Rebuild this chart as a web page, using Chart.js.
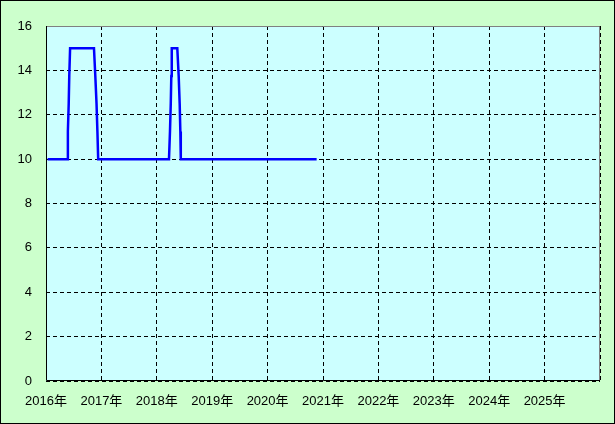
<!DOCTYPE html>
<html>
<head>
<meta charset="utf-8">
<script src="https://cdn.jsdelivr.net/npm/chart.js@4/dist/chart.umd.min.js"></script>
<style>
  html, body { margin: 0; padding: 0; background: #ccffcc; }
  #wrap { width: 615px; height: 424px; }
</style>
</head>
<body>
<div id="wrap"><canvas id="lineChart" width="615" height="424"></canvas></div>
<script>
// ---------------- DATA -----------------------------
// dates as decimal years
const dates = [
  2016.03, 2016.38, 2016.395, 2016.41, 2016.42, 2016.435,
  2016.866, 2016.89, 2016.912, 2016.928, 2016.942,
  2018.22, 2018.238, 2018.252, 2018.262, 2018.27,
  2018.37, 2018.395, 2018.413, 2018.425, 2018.433,
  2020.885,
];
const rates = [
  10, 10, 11.25, 12.5, 13.75, 15,
  15, 13.75, 12.5, 11.25, 10,
  10, 11.25, 12.5, 13.75, 15,
  15, 13.75, 12.5, 11.25, 10,
  10,
];
const yearTicks = [2016, 2017, 2018, 2019, 2020, 2021, 2022, 2023, 2024, 2025];

const points = dates.map((d, i) => ({ x: d, y: rates[i] }));

// ---------------- BACKGROUND / BORDERS -----------------------------
const framePlugin = {
  id: "frame",
  beforeDraw(chart) {
    const { ctx, chartArea: a, width, height } = chart;
    ctx.save();
    ctx.fillStyle = "#ccffcc";
    ctx.fillRect(0, 0, width, height);
    ctx.strokeStyle = "#000";
    ctx.lineWidth = 1;
    ctx.strokeRect(0.5, 0.5, width - 1, height - 1);
    ctx.fillStyle = "#ccffff";
    ctx.fillRect(a.left, a.top, a.right - a.left, a.bottom - a.top);
    ctx.restore();
  },
  beforeDatasetsDraw(chart) {
    const { ctx, chartArea: a } = chart;
    ctx.save();
    ctx.lineWidth = 1;
    ctx.strokeStyle = "#808080";
    ctx.beginPath();
    ctx.moveTo(a.left, a.top + 0.5);
    ctx.lineTo(a.right - 0.5, a.top + 0.5);
    ctx.lineTo(a.right - 0.5, a.bottom);
    ctx.stroke();
    ctx.strokeStyle = "#000";
    ctx.beginPath();
    ctx.moveTo(a.left + 0.5, a.top);
    ctx.lineTo(a.left + 0.5, a.bottom - 0.5);
    ctx.lineTo(a.right, a.bottom - 0.5);
    ctx.stroke();
    ctx.restore();
  },
};

const font = { family: "'Liberation Sans', 'Noto Sans CJK JP', sans-serif", size: 13 };

// ---------------- CHART -----------------------------
const lineChartConfig = {
  type: "line",
  data: {
    datasets: [
      {
        data: points,
        borderColor: "#0000ff",
        borderWidth: 2.5,
        pointRadius: 0,
        tension: 0,
        fill: false,
      },
    ],
  },
  options: {
    responsive: false,
    animation: false,
    layout: { padding: { left: 0, right: 15, top: 26, bottom: 0 } },
    plugins: { legend: { display: false }, tooltip: { enabled: false } },
    scales: {
      x: {
        type: "linear",
        min: 2016,
        max: 2026,
        afterBuildTicks(scale) {
          scale.ticks = yearTicks.concat([2026]).map((v) => ({ value: v }));
        },
        afterFit(scale) { scale.height = 43; },
        grid: { color: "#000", lineWidth: 1, drawTicks: false },
        border: { display: false, dash: [4, 3] },
        ticks: {
          color: "#000",
          font: font,
          padding: 13,
          maxRotation: 0,
          autoSkip: false,
          callback: (v) => (yearTicks.includes(v) ? v + "年" : ""),
        },
      },
      y: {
        min: 0,
        max: 16,
        afterFit(scale) { scale.width = 46; },
        grid: { color: "#000", lineWidth: 1, drawTicks: false },
        border: { display: false, dash: [4, 3] },
        ticks: { stepSize: 2, color: "#000", font: font, padding: 14 },
      },
    },
  },
  plugins: [framePlugin],
};

// RENDER THE CHART
const lineChart = new Chart(document.getElementById("lineChart"), lineChartConfig);
</script>
</body>
</html>
